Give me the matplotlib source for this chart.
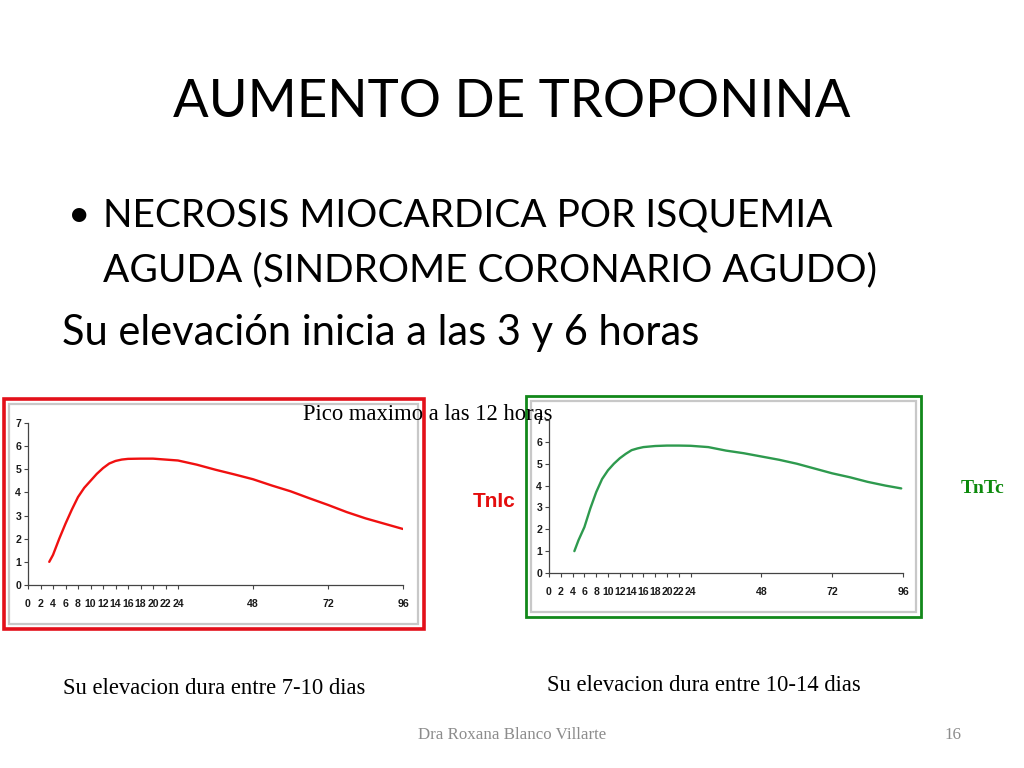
import numpy as np
import matplotlib
matplotlib.use("Agg")
import matplotlib.pyplot as plt
from matplotlib.patches import Rectangle

# ---- data ----
tnic_hours = [3.4, 4, 5, 6, 7, 8, 9, 10, 11, 12, 13, 14, 15, 16, 18, 20, 22, 24,
              30, 36, 42, 48, 54, 60, 66, 72, 78, 84, 90, 96]
tnic_vals = [1.0, 1.3, 2.0, 2.65, 3.25, 3.8, 4.2, 4.5, 4.8, 5.05, 5.25, 5.36, 5.42, 5.45,
             5.46, 5.46, 5.42, 5.38, 5.2, 4.98, 4.78, 4.57, 4.3, 4.05, 3.75, 3.46,
             3.15, 2.88, 2.65, 2.42]
tntc_hours = [4.3, 5, 6, 7, 8, 9, 10, 11, 12, 13, 14, 15, 16, 18, 20, 22, 24,
              30, 36, 42, 48, 54, 60, 66, 72, 78, 84, 90, 95.4]
tntc_vals = [1.0, 1.5, 2.1, 2.95, 3.7, 4.3, 4.7, 5.0, 5.25, 5.45, 5.62, 5.7, 5.76,
             5.81, 5.83, 5.83, 5.82, 5.76, 5.6, 5.48, 5.33, 5.18, 5.0, 4.78, 4.56,
             4.38, 4.17, 4.0, 3.87]
x_ticks = [0, 2, 4, 6, 8, 10, 12, 14, 16, 18, 20, 22, 24, 48, 72, 96]
red_y_ticks = [0, 1, 2, 3, 4, 5, 6, 7]
green_y_ticks = [0, 1, 2, 3, 4, 5, 6, 7]

title = "AUMENTO DE TROPONINA"
bullet_1 = "NECROSIS MIOCARDICA POR ISQUEMIA"
bullet_2 = "AGUDA (SINDROME CORONARIO AGUDO)"
line_3 = "Su elevación inicia a las 3 y 6 horas"
pico = "Pico maximo a las 12 horas"
dur_red = "Su elevacion dura entre 7-10 dias"
dur_green = "Su elevacion dura entre 10-14 dias"
footer = "Dra Roxana Blanco Villarte"
page = "16"

W, H = 1024, 768
fig = plt.figure(figsize=(W / 100, H / 100), dpi=100)
fig.patch.set_facecolor("white")


def fx(px):
    return px / W


def fy(py):
    return (H - py) / H


def fwd(h):
    h = np.asarray(h, dtype=float)
    return np.where(h <= 24, h / 2.0, 12 + (h - 24) / 4.0)


def inv(x):
    x = np.asarray(x, dtype=float)
    return np.where(x <= 12, x * 2.0, 24 + (x - 12) * 4.0)


def frame(x0, y0, x1, y1, color, lw):
    fig.patches.append(Rectangle((fx(x0), fy(y1)), fx(x1) - fx(x0), fy(y0) - fy(y1),
                                 transform=fig.transFigure, fill=False,
                                 edgecolor=color, linewidth=lw, zorder=1))


# frames
frame(4, 399, 424, 629, "#e3101a", 2.6)
frame(9, 404, 418, 624, "#c8c8c8", 1.6)
frame(526, 396, 921, 617, "#12881a", 2.0)
frame(531, 401, 916, 612, "#c8c8c8", 1.6)


def make_chart(rect, hours, vals, color, yt):
    ax = fig.add_axes(rect)
    ax.set_xscale("function", functions=(fwd, inv))
    ax.plot(hours, vals, color=color, linewidth=1.7, solid_capstyle="round")
    ax.set_xlim(0, 96)
    ax.set_ylim(0, 7)
    ax.set_xticks(x_ticks)
    ax.set_xticklabels([str(t) for t in x_ticks])
    ax.set_yticks(yt)
    ax.xaxis.set_minor_locator(matplotlib.ticker.NullLocator())
    for s in ["top", "right"]:
        ax.spines[s].set_visible(False)
    for s in ["left", "bottom"]:
        ax.spines[s].set_color("#444444")
        ax.spines[s].set_linewidth(0.9)
    ax.tick_params(axis="both", direction="out", length=3, width=0.8, color="#444444",
                   labelsize=7.6, labelcolor="#1a1a1a")
    ax.tick_params(axis="x", pad=7)
    ax.tick_params(axis="y", pad=2)
    for lab in ax.get_xticklabels() + ax.get_yticklabels():
        lab.set_fontweight("bold")
        lab.set_family("Liberation Sans")
    ax.patch.set_alpha(0)
    return ax


make_chart([fx(28), fy(585), fx(403) - fx(28), fy(423) - fy(585)],
           tnic_hours, tnic_vals, "#f01010", red_y_ticks)
make_chart([fx(549), fy(573), fx(903) - fx(549), fy(420) - fy(573)],
           tntc_hours, tntc_vals, "#2e9a4e", green_y_ticks)

# texts
fig.text(fx(512), fy(117), title, ha="center", va="baseline",
         fontsize=38, family="Lato", color="black")
fig.text(fx(68), fy(226), "\u2022", ha="left", va="baseline",
         fontsize=28, family="Lato", color="black")
fig.text(fx(103), fy(227), bullet_1, ha="left", va="baseline",
         fontsize=28, family="Lato", color="black")
fig.text(fx(103), fy(281), bullet_2, ha="left", va="baseline",
         fontsize=28, family="Lato", color="black")
fig.text(fx(62), fy(345), line_3, ha="left", va="baseline",
         fontsize=30, family="Lato", color="black")

fig.text(fx(303), fy(420), pico, ha="left", va="baseline",
         fontsize=16.3, family="Liberation Serif", color="black", zorder=5)
fig.text(fx(63), fy(694), dur_red, ha="left", va="baseline",
         fontsize=16.3, family="Liberation Serif", color="black")
fig.text(fx(547), fy(691), dur_green, ha="left", va="baseline",
         fontsize=16.3, family="Liberation Serif", color="black")
fig.text(fx(418), fy(739), footer, ha="left", va="baseline",
         fontsize=12.2, family="Liberation Serif", color="#8c8c8c")
fig.text(fx(962), fy(739), page, ha="right", va="baseline",
         fontsize=12.2, family="Liberation Serif", color="#8c8c8c")

fig.text(fx(473), fy(507), "TnIc", ha="left", va="baseline",
         fontsize=15, family="Liberation Sans", fontweight="bold", color="#e40d0d")
fig.text(fx(961), fy(493), "TnTc", ha="left", va="baseline",
         fontsize=14, family="Liberation Serif", fontweight="bold", color="#0d8a0d")

fig.savefig("out.png", dpi=100, facecolor="white")
